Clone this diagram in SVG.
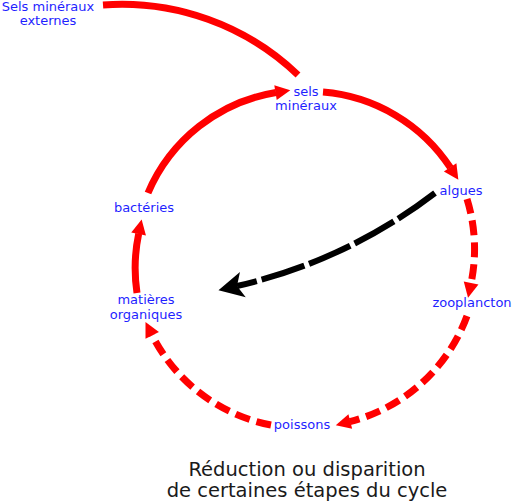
<svg xmlns="http://www.w3.org/2000/svg" width="512" height="503" viewBox="0 0 512 503">
<style>
.lbl{font-family:"DejaVu Sans",Verdana,sans-serif;font-size:13px;fill:#1f1fff;text-anchor:middle}
.title{font-family:"DejaVu Sans",Verdana,sans-serif;font-size:19.5px;fill:#1a1a1a;text-anchor:middle}
.red{fill:none;stroke:#ff0000;stroke-width:7}
.dash{stroke-dasharray:15 7}
.blk{fill:none;stroke:#000;stroke-width:6;stroke-dasharray:45 5}
</style>
<defs>
<marker id="ar" markerUnits="userSpaceOnUse" markerWidth="20" markerHeight="20" refX="0.5" refY="0" viewBox="-2 -10 20 20" orient="auto" overflow="visible">
<path d="M15,0 L0,-7.5 L0,7.5 z" fill="#ff0000"/>
</marker>
<marker id="ab" markerUnits="userSpaceOnUse" markerWidth="30" markerHeight="30" refX="6" refY="0" viewBox="-2 -15 30 30" orient="auto" overflow="visible">
<path d="M25,0 L0,-13 L6,0 L0,13 z" fill="#000"/>
</marker>
</defs>
<g id="connectors">
<path class="red" d="M103,5 A255,255 0 0 1 298,75" stroke-width="6"/>
<path class="red" d="M148,193 A169,169 0 0 1 276,92.5" marker-end="url(#ar)"/>
<path class="red" d="M323,92 A169,169 0 0 1 450.4,167.7" marker-end="url(#ar)"/>
<path class="red dash" d="M467,199 A169,169 0 0 1 471,283.5" marker-end="url(#ar)"/>
<path class="red dash" d="M467,316 A169,169 0 0 1 349.8,421.6" marker-end="url(#ar)"/>
<path class="red dash" d="M271,425 A169,169 0 0 1 152,335" marker-end="url(#ar)"/>
<path class="red" d="M137,293 A169,169 0 0 1 138.7,233.6" marker-end="url(#ar)"/>
<path class="blk" d="M435,193 A514,514 0 0 1 237,286" marker-end="url(#ab)"/>
</g>
<g id="node-externes"><text class="lbl" x="48" y="11">Sels minéraux</text><text class="lbl" x="48" y="25">externes</text></g>
<g id="node-sels"><text class="lbl" x="306" y="96">sels</text><text class="lbl" x="306" y="110">minéraux</text></g>
<g id="node-algues"><text class="lbl" x="461" y="195">algues</text></g>
<g id="node-zooplancton"><text class="lbl" x="472" y="307">zooplancton</text></g>
<g id="node-poissons"><text class="lbl" x="302" y="429">poissons</text></g>
<g id="node-matieres"><text class="lbl" x="146" y="304">matières</text><text class="lbl" x="146" y="319">organiques</text></g>
<g id="node-bacteries"><text class="lbl" x="144" y="212">bactéries</text></g>
<g id="caption"><text class="title" x="307" y="476">Réduction ou disparition</text><text class="title" x="307" y="497">de certaines étapes du cycle</text></g>
</svg>
